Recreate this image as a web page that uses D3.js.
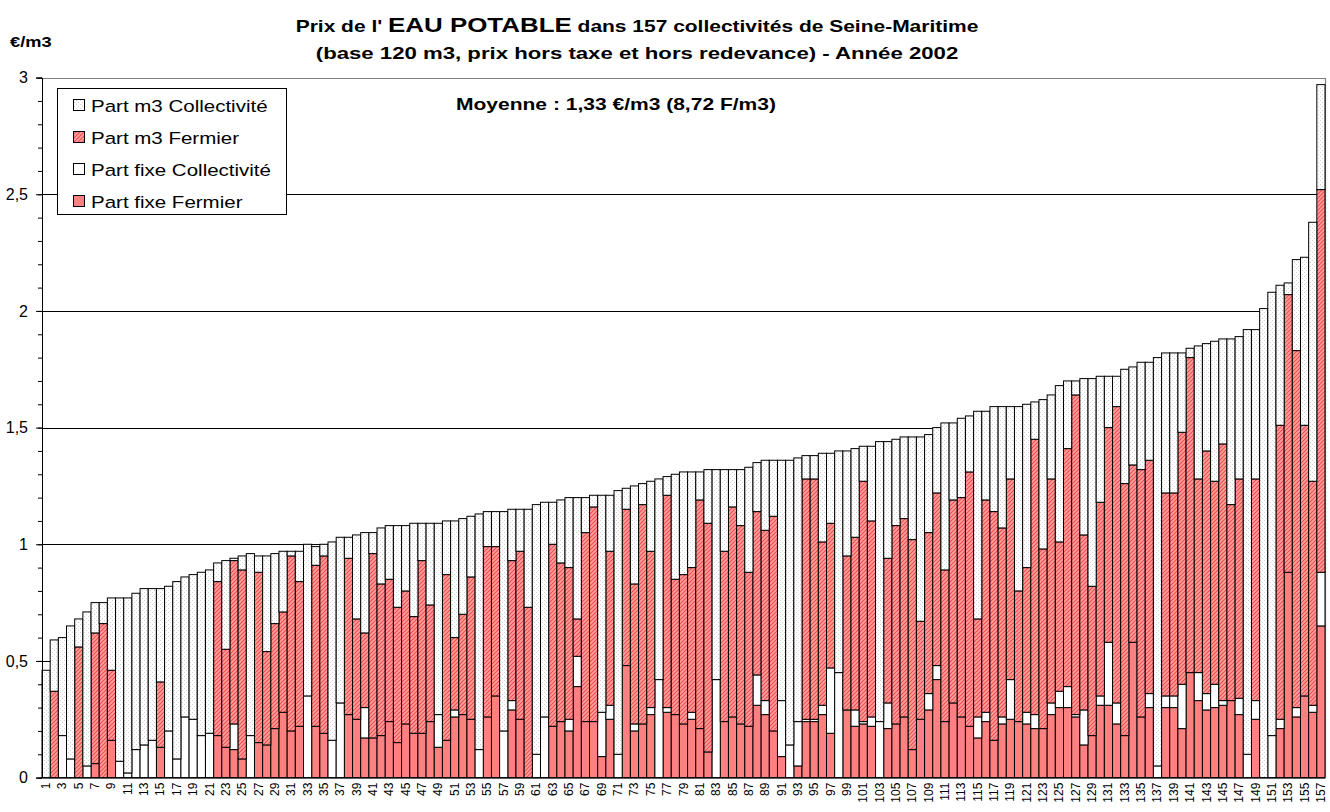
<!DOCTYPE html>
<html>
<head>
<meta charset="utf-8">
<script src="https://cdn.jsdelivr.net/npm/d3@7"></script>
<style>
  body { margin: 0; background: #fff; }
  svg { display: block; font-family: Arial, "Liberation Sans", sans-serif; }
</style>
</head>
<body>
<div id="chart"></div>
<script>
// values, one entry per collectivity (1..157), in €/m3
var fixeFermier = [
  0,0,0,0,0,0,0.06,0,0.16,0,
  0,0,0,0,0.13,0,0,0,0,0,
  0,0.18,0.13,0.12,0.08,0,0.15,0.14,0.21,0.28,
  0.20,0.22,0,0.22,0.19,0,0,0.27,0.25,0.17,
  0.17,0.18,0.24,0.15,0.23,0.19,0.19,0.24,0.13,0.16,
  0.26,0.27,0.25,0,0.26,0.35,0,0.29,0.25,0,
  0,0,0.22,0.24,0.20,0.39,0.24,0.24,0.09,0.25,
  0,0.48,0.20,0.23,0.27,0,0.28,0.27,0.23,0.25,
  0.21,0.11,0,0.24,0.26,0.23,0.22,0.31,0.27,0.20,
  0.09,0,0.05,0.24,0.24,0.27,0.19,0,0.29,0.22,
  0.23,0.22,0,0.21,0.23,0.26,0.12,0.25,0.29,0.42,
  0.24,0.32,0.26,0.22,0.17,0.24,0.16,0.23,0.25,0.24,
  0.23,0.21,0.21,0.27,0.30,0.30,0.26,0.14,0.18,0.31,
  0.31,0.23,0.18,0.58,0.26,0.30,0,0.30,0.30,0.21,
  0.45,0.33,0.29,0.30,0.31,0.33,0.27,0,0.25,0,
  0,0.21,0.88,0.26,0.35,0.28,0.65
];
var fixeCollectivite = [
  0,0,0.18,0.08,0,0.05,0,0,0,0.07,
  0.02,0.12,0.14,0.16,0,0.20,0.08,0.26,0.25,0.18,
  0.19,0,0,0.11,0,0.18,0,0,0,0,
  0,0,0.35,0,0,0.16,0.32,0,0,0.13,
  0,0,0,0,0,0,0,0,0.14,0,
  0.03,0,0,0.12,0,0,0.20,0.04,0,0,
  0.10,0.26,0,0,0.05,0.13,0,0,0.19,0.06,
  0.10,0,0.03,0,0.03,0.42,0.02,0,0,0.03,
  0,0,0.42,0,0,0,0,0.13,0.06,0,
  0.24,0.14,0.19,0.01,0.01,0.04,0.28,0.45,0,0.07,
  0.01,0.04,0.24,0.11,0,0,0,0,0.07,0.06,
  0,0,0,0,0.09,0.04,0,0.03,0.17,0,
  0.05,0.06,0,0.05,0.07,0.09,0.01,0.15,0,0.04,
  0.27,0.09,0,0,0,0.06,0.05,0.05,0.05,0.19,
  0,0.12,0.07,0.10,0.02,0,0.07,0.10,0.08,0,
  0.18,0.04,0,0.04,0,0.03,0.23
];
var m3Fermier = [
  0,0.37,0,0,0.56,0,0.56,0.66,0.30,0,
  0,0,0,0,0.28,0,0,0,0,0,
  0,0.66,0.42,0.70,0.81,0,0.73,0.40,0.45,0.43,
  0.75,0.62,0,0.69,0.76,0,0,0.67,0.43,0.32,
  0.79,0.65,0.61,0.58,0.57,0.50,0.74,0.50,0,0.71,
  0.31,0.43,0.61,0,0.73,0.64,0,0.60,0.72,0.73,
  0,0,0.78,0.68,0.65,0.16,0.81,0.92,0,0.66,
  0,0.67,0.60,0.94,0.67,0,0.91,0.58,0.64,0.62,
  0.98,0.98,0,0.73,0.90,0.85,0.66,0.70,0.73,0.92,
  0,0,0,1.03,1.03,0.70,0.62,0,0.66,0.74,
  1.03,0.84,0,0.62,0.85,0.85,0.90,0.42,0.69,0.74,
  0.65,0.87,0.94,1.09,0.42,0.91,0.98,0.81,0.86,0.56,
  0.62,1.18,0.77,0.96,0.64,1.02,1.37,0.75,0.64,0.83,
  0.92,1.27,1.08,0.76,1.06,1.00,0,0.87,0.87,1.08,
  1.35,0.83,1.04,0.87,1.10,0.84,0.94,0,0.95,0,
  0,1.26,1.19,1.53,1.16,0.96,1.64
];
var m3Collectivite = [
  0.46,0.22,0.42,0.57,0.12,0.66,0.13,0.09,0.31,0.70,
  0.75,0.67,0.67,0.65,0.40,0.62,0.76,0.60,0.62,0.70,
  0.70,0.08,0.38,0.01,0.06,0.78,0.07,0.41,0.30,0.26,
  0.02,0.13,0.65,0.08,0.05,0.85,0.71,0.09,0.36,0.43,
  0.09,0.24,0.23,0.35,0.28,0.40,0.16,0.35,0.82,0.23,
  0.50,0.41,0.26,1.01,0.15,0.15,0.94,0.22,0.18,0.42,
  1.07,0.92,0.18,0.27,0.30,0.52,0.15,0.05,0.93,0.24,
  1.13,0.09,0.42,0.09,0.30,0.86,0.08,0.45,0.44,0.41,
  0.12,0.23,0.90,0.35,0.16,0.24,0.45,0.21,0.30,0.24,
  1.03,1.22,1.13,0.10,0.10,0.38,0.30,0.95,0.45,0.38,
  0.15,0.32,1.20,0.50,0.37,0.35,0.44,0.79,0.42,0.28,
  0.63,0.33,0.34,0.24,0.89,0.38,0.45,0.52,0.31,0.79,
  0.70,0.16,0.64,0.36,0.67,0.29,0.06,0.67,0.89,0.54,
  0.22,0.13,0.49,0.42,0.46,0.42,1.75,0.60,0.60,0.34,
  0.04,0.57,0.46,0.60,0.45,0.71,0.61,1.82,0.64,2.01,
  1.90,0.60,0.05,0.39,0.72,1.11,0.45
];
var yTicks = [0, 0.5, 1, 1.5, 2, 2.5, 3];
var yTickLabels = ["0", "0,5", "1", "1,5", "2", "2,5", "3"];
var seriesKeys = ["fixeFermier", "fixeCollectivite", "m3Fermier", "m3Collectivite"];
var legendLabels = ["Part m3 Collectivité", "Part m3 Fermier", "Part fixe Collectivité", "Part fixe Fermier"];
var legendKeys = ["m3Collectivite", "m3Fermier", "fixeCollectivite", "fixeFermier"];

var categories = d3.range(1, fixeFermier.length + 1);
var rows = categories.map(function(c, i){
  return {
    cat: c,
    fixeFermier: fixeFermier[i],
    fixeCollectivite: fixeCollectivite[i],
    m3Fermier: m3Fermier[i],
    m3Collectivite: m3Collectivite[i]
  };
});

var W = 1330, H = 812;
var plot = { left: 42, right: 1325, top: 77.6, bottom: 777.6 };

var svg = d3.select("#chart").append("svg")
  .attr("width", W)
  .attr("height", H);

// fills
var defs = svg.append("defs");
var hatch = defs.append("pattern")
  .attr("id", "hatch")
  .attr("patternUnits", "userSpaceOnUse")
  .attr("width", 4).attr("height", 4);
hatch.append("rect").attr("width", 4).attr("height", 4).attr("fill", "#ffa0a0");
hatch.append("path")
  .attr("d", "M-1,1 l2,-2 M0,4 l4,-4 M3,5 l2,-2")
  .attr("stroke", "#f24a4a").attr("stroke-width", 1.1);

var dots = defs.append("pattern")
  .attr("id", "dots")
  .attr("patternUnits", "userSpaceOnUse")
  .attr("width", 4).attr("height", 4);
dots.append("rect").attr("width", 4).attr("height", 4).attr("fill", "#ffffff");
dots.append("rect").attr("x", 0).attr("y", 0).attr("width", 1).attr("height", 1).attr("fill", "#d2d2d2");
dots.append("rect").attr("x", 2).attr("y", 2).attr("width", 1).attr("height", 1).attr("fill", "#d2d2d2");

var fills = {
  fixeFermier: "#ff8080",
  fixeCollectivite: "#ffffff",
  m3Fermier: "url(#hatch)",
  m3Collectivite: "url(#dots)"
};

var x = d3.scaleBand()
  .domain(categories)
  .range([plot.left, plot.right])
  .paddingInner(0)
  .paddingOuter(0);

var y = d3.scaleLinear()
  .domain([0, 3])
  .range([plot.bottom, plot.top]);

// gridlines
svg.append("g")
  .attr("class", "grid")
  .selectAll("line")
  .data(yTicks.filter(function(t){ return t > 0 && t < 3; }))
  .enter()
  .append("line")
  .attr("x1", plot.left).attr("x2", plot.right)
  .attr("y1", function(d){ return Math.round(y(d)) + 0.5; })
  .attr("y2", function(d){ return Math.round(y(d)) + 0.5; })
  .attr("stroke", "#000").attr("stroke-width", 1);

// plot border (top / right)
svg.append("path")
  .attr("d", "M" + plot.left + "," + (Math.round(plot.top) + 0.5) + "H" + (plot.right + 0.5) + "V" + plot.bottom)
  .attr("fill", "none").attr("stroke", "#808080").attr("stroke-width", 1.2);

// stacked bars
var stack = d3.stack().keys(seriesKeys);
var stacked = stack(rows);

svg.append("g")
  .attr("class", "bars")
  .selectAll("g")
  .data(stacked)
  .enter()
  .append("g")
  .attr("fill", function(s){ return fills[s.key]; })
  .selectAll("rect")
  .data(function(s){ return s.filter(function(d){ return d[1] - d[0] > 0.001; }); })
  .enter()
  .append("rect")
  .attr("x", function(d){ return x(d.data.cat); })
  .attr("width", x.bandwidth())
  .attr("y", function(d){ return y(d[1]); })
  .attr("height", function(d){ return y(d[0]) - y(d[1]); })
  .attr("stroke", "#000")
  .attr("stroke-width", 1);

// y axis with major and minor ticks
var yAxis = d3.axisLeft(y)
  .tickValues(yTicks)
  .tickSize(6)
  .tickPadding(8)
  .tickFormat(function(d, i){ return yTickLabels[i]; });

var yAxisG = svg.append("g")
  .attr("transform", "translate(" + plot.left + ",0)")
  .call(yAxis);
yAxisG.select(".domain").attr("stroke", "#000");
yAxisG.selectAll("text")
  .attr("font-size", 16)
  .attr("fill", "#000")
  .attr("font-family", "Arial, 'Liberation Sans', sans-serif");

svg.append("g")
  .attr("transform", "translate(" + plot.left + ",0)")
  .call(d3.axisLeft(y).tickValues(d3.range(0, 31).map(function(v){ return v / 10; })).tickSize(4).tickFormat(""))
  .select(".domain").remove();

// x axis
var xAxis = d3.axisBottom(x)
  .tickSize(0)
  .tickFormat("");
svg.append("g")
  .attr("transform", "translate(0," + plot.bottom + ")")
  .call(xAxis)
  .select(".domain").attr("stroke", "#000");

svg.append("g")
  .attr("class", "x-labels")
  .selectAll("text")
  .data(categories.filter(function(c){ return c % 2 === 1; }))
  .enter()
  .append("text")
  .text(function(d){ return d; })
  .attr("transform", function(d){
    return "translate(" + (x(d) + x.bandwidth() / 2 + 4) + "," + (plot.bottom + 5) + ") rotate(-90)";
  })
  .attr("text-anchor", "end")
  .attr("font-size", 12)
  .attr("fill", "#000");

// text stretched to a given width
function stretchText(parent, tx, ty, anchor, width, build){
  var g = parent.append("g");
  var t = g.append("text").attr("text-anchor", anchor);
  build(t);
  var w = t.node().getBBox().width;
  var sx = width / w;
  g.attr("transform", "translate(" + tx + "," + ty + ") scale(" + sx + ",1)");
  return sx;
}

// title
stretchText(svg, 637, 32, "middle", 683, function(t){
  t.attr("font-weight", "bold").attr("font-size", 17);
  t.append("tspan").text("Prix de l' ");
  t.append("tspan").attr("font-size", 21).text("EAU POTABLE");
  t.append("tspan").text(" dans 157 collectivités de Seine-Maritime");
});
stretchText(svg, 637, 59, "middle", 643, function(t){
  t.attr("font-weight", "bold").attr("font-size", 17)
    .text("(base 120 m3, prix hors taxe et hors redevance) - Année 2002");
});

// unit label
stretchText(svg, 10, 47, "start", 42, function(t){
  t.attr("font-weight", "bold").attr("font-size", 14).text("€/m3");
});

// average
stretchText(svg, 456, 110, "start", 320, function(t){
  t.attr("font-weight", "bold").attr("font-size", 17).text("Moyenne : 1,33 €/m3 (8,72 F/m3)");
});

// legend
var legend = svg.append("g").attr("class", "legend");
legend.append("rect")
  .attr("x", 57.5).attr("y", 88.5)
  .attr("width", 229).attr("height", 126)
  .attr("fill", "#fff").attr("stroke", "#000").attr("stroke-width", 1);

var rowY = [106, 138, 170, 202];
var probe = legend.append("text").attr("font-size", 17).text(legendLabels[2]);
var legendScale = 180 / probe.node().getBBox().width;
probe.remove();

legendKeys.forEach(function(k, i){
  legend.append("rect")
    .attr("x", 73.5).attr("y", rowY[i] - 6.5)
    .attr("width", 11).attr("height", 11)
    .attr("fill", fills[k])
    .attr("stroke", "#000").attr("stroke-width", 1);
  legend.append("text")
    .attr("transform", "translate(91," + (rowY[i] + 6) + ") scale(" + legendScale + ",1)")
    .attr("font-size", 17)
    .attr("fill", "#000")
    .text(legendLabels[i]);
});
</script>
</body>
</html>
